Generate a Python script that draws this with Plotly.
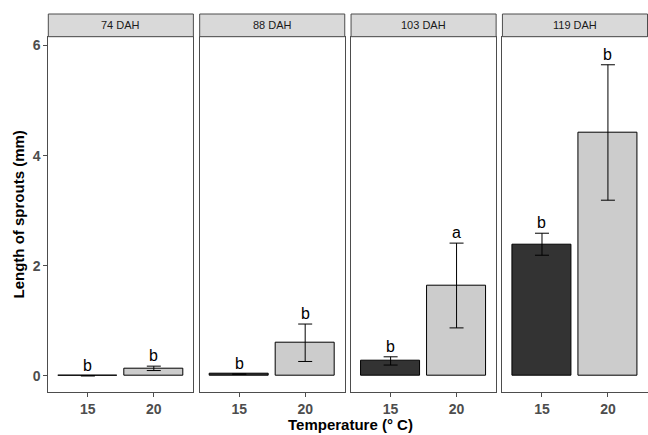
import plotly.graph_objects as go

panels = ["74 DAH", "88 DAH", "103 DAH", "119 DAH"]
temps = ["15", "20"]
mean_15 = [0.0, 0.03, 0.27, 2.39]
mean_20 = [0.135, 0.60, 1.64, 4.42]
se_15 = [0.0, 0.0, 0.075, 0.20]
se_20 = [0.04, 0.34, 0.77, 1.23]
letters_15 = ["b", "b", "b", "b"]
letters_20 = ["b", "b", "a", "b"]
y_ticks = [0, 2, 4, 6]

W, H = 648, 435
left, right = 48.3, 647.5
gap = 6.3
pw = (right - left - 3 * gap) / 4
ptop, pbot = 36.7, 392.3
strip_top = 14.0

dark, light = "#333333", "#CCCCCC"
border = "#4D4D4D"

fig = go.Figure()
annotations = []
shapes = []

for i, name in enumerate(panels):
    ax = "" if i == 0 else str(i + 1)
    x0 = left + i * (pw + gap)
    x1 = x0 + pw
    means = [mean_15[i], mean_20[i]]
    ses = [se_15[i], se_20[i]]
    fig.add_trace(go.Bar(
        x=temps, y=means, width=0.9,
        marker=dict(color=[dark, light], line=dict(color="black", width=1)),
        error_y=dict(type="data", array=ses, color="black", thickness=1, width=7),
        xaxis="x" + ax, yaxis="y" + ax, showlegend=False, hoverinfo="skip",
    ))
    for j, (m, s, lab) in enumerate(zip(means, ses, [letters_15[i], letters_20[i]])):
        annotations.append(dict(
            x=j, y=m + s, xref="x" + ax, yref="y" + ax, text=lab,
            showarrow=False, yanchor="bottom", yshift=0,
            font=dict(family="Liberation Sans, Arial", size=16, color="black"),
        ))
    fig.layout["xaxis" + ax] = dict(
        domain=[x0 / W, x1 / W], anchor="y" + ax, type="category",
        range=[-0.6, 1.6], showline=True, mirror=True, linecolor=border, linewidth=1,
        ticks="outside", ticklen=4, tickcolor=border, showgrid=False, zeroline=False,
        tickfont=dict(family="Liberation Sans, Arial", size=14, color="#4D4D4D", weight="bold"),
    )
    fig.layout["yaxis" + ax] = dict(
        domain=[1 - pbot / H, 1 - ptop / H], anchor="x" + ax,
        range=[-0.30, 6.16], tickvals=y_ticks, showline=True, mirror=True,
        linecolor=border, linewidth=1, showgrid=False, zeroline=False,
        ticks="outside" if i == 0 else "", ticklen=4, tickcolor=border,
        showticklabels=(i == 0),
        tickfont=dict(family="Liberation Sans, Arial", size=14, color="#4D4D4D", weight="bold"),
    )
    shapes.append(dict(type="rect", xref="paper", yref="paper",
                       x0=x0 / W, x1=x1 / W, y0=1 - ptop / H, y1=1 - strip_top / H,
                       fillcolor="#D9D9D9", line=dict(color=border, width=1)))
    annotations.append(dict(
        x=(x0 + x1) / 2 / W, y=1 - (ptop + strip_top) / 2 / H, xref="paper", yref="paper",
        text=name, showarrow=False, xanchor="center", yanchor="middle",
        font=dict(family="Liberation Sans, Arial", size=11, color="#1A1A1A"),
    ))

annotations.append(dict(
    x=350 / W, y=1 - 424 / H, xref="paper", yref="paper", text="Temperature (° C)",
    showarrow=False, xanchor="center", yanchor="middle",
    font=dict(family="Liberation Sans, Arial", size=15, color="black", weight="bold"),
))
annotations.append(dict(
    x=18 / W, y=1 - (ptop + pbot) / 2 / H, xref="paper", yref="paper",
    text="Length of sprouts (mm)", textangle=-90,
    showarrow=False, xanchor="center", yanchor="middle",
    font=dict(family="Liberation Sans, Arial", size=15, color="black", weight="bold"),
))

fig.update_layout(
    width=W, height=H, margin=dict(l=0, r=0, t=0, b=0),
    paper_bgcolor="white", plot_bgcolor="white",
    annotations=annotations, shapes=shapes, bargap=0, hovermode=False,
)
fig.write_html("out.html", config={"displayModeBar": False},
               post_script="document.body.style.margin='0';document.body.style.overflow='hidden';")
